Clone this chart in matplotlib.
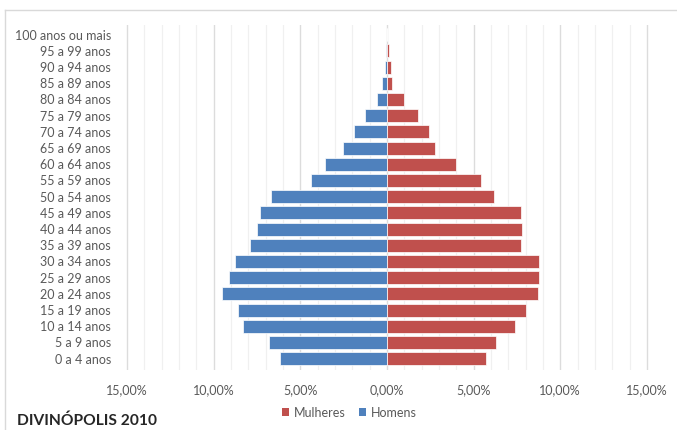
import matplotlib
matplotlib.use("Agg")
import matplotlib.pyplot as plt
from matplotlib.ticker import FuncFormatter, MultipleLocator
from matplotlib.patches import Patch
from matplotlib.lines import Line2D

plt.rcParams["font.family"] = ["Lato", "DejaVu Sans"]

faixas = ["0 a 4 anos", "5 a 9 anos", "10 a 14 anos", "15 a 19 anos", "20 a 24 anos",
          "25 a 29 anos", "30 a 34 anos", "35 a 39 anos", "40 a 44 anos", "45 a 49 anos",
          "50 a 54 anos", "55 a 59 anos", "60 a 64 anos", "65 a 69 anos", "70 a 74 anos",
          "75 a 79 anos", "80 a 84 anos", "85 a 89 anos", "90 a 94 anos", "95 a 99 anos",
          "100 anos ou mais"]
homens = [6.18, 6.83, 8.30, 8.60, 9.50, 9.10, 8.76, 7.93, 7.48, 7.33, 6.70,
          4.40, 3.60, 2.55, 1.90, 1.25, 0.60, 0.30, 0.10, 0.03, 0.01]
mulheres = [5.73, 6.30, 7.40, 8.00, 8.73, 8.80, 8.76, 7.75, 7.80, 7.75, 6.15,
            5.40, 4.00, 2.75, 2.40, 1.80, 1.00, 0.30, 0.25, 0.10, 0.02]

azul = "#4F81BD"
vermelho = "#C0504D"
cinza_texto = "#595959"

fig = plt.figure(figsize=(6.77, 4.30), dpi=100)
ax = fig.add_axes([0.1826, 0.1395, 0.7780, 0.8024])

y = range(len(faixas))
ax.barh(y, [-v for v in homens], height=0.8, color=azul, edgecolor="white", linewidth=0.5, zorder=3)
ax.barh(y, mulheres, height=0.8, color=vermelho, edgecolor="white", linewidth=0.5, zorder=3)

ax.set_xlim(-15.2, 15.2)
ax.set_ylim(-0.7, 20.6)
ax.set_yticks(list(y))
ax.set_yticklabels(faixas)
ax.xaxis.set_major_locator(MultipleLocator(5))
ax.xaxis.set_minor_locator(MultipleLocator(1))
ax.xaxis.set_major_formatter(FuncFormatter(lambda v, p: f"{abs(v):.2f}%".replace(".", ",")))

ax.grid(True, which="major", axis="x", color="#dcdcdc", linewidth=1.0, zorder=0)
ax.grid(True, which="minor", axis="x", color="#f0f0f0", linewidth=0.9, zorder=0)
ax.tick_params(axis="both", which="both", length=0, labelsize=9, labelcolor=cinza_texto)
ax.tick_params(axis="x", pad=10)
ax.tick_params(axis="y", pad=9)
for s in ax.spines.values():
    s.set_visible(False)

# moldura clara do gráfico
fig.add_artist(Line2D([0.0074, 0.0074], [0.0, 0.9767], color="#d9d9d9", linewidth=1.0))
fig.add_artist(Line2D([0.0074, 1.0], [0.9767, 0.9767], color="#d9d9d9", linewidth=1.0))

legenda = [Patch(facecolor=vermelho, label="Mulheres"), Patch(facecolor=azul, label="Homens")]
fig.legend(handles=legenda, loc="center", bbox_to_anchor=(0.516, 0.040), ncol=2, frameon=False,
           fontsize=9, handlelength=0.6, handleheight=0.6, handletextpad=0.4, columnspacing=1.0,
           labelcolor=cinza_texto)

fig.text(0.025, 0.021, "DIVINÓPOLIS 2010", fontsize=11.2, fontweight="bold", color="#262626", va="center")

fig.savefig("out.png", dpi=100)
plt.close(fig)
